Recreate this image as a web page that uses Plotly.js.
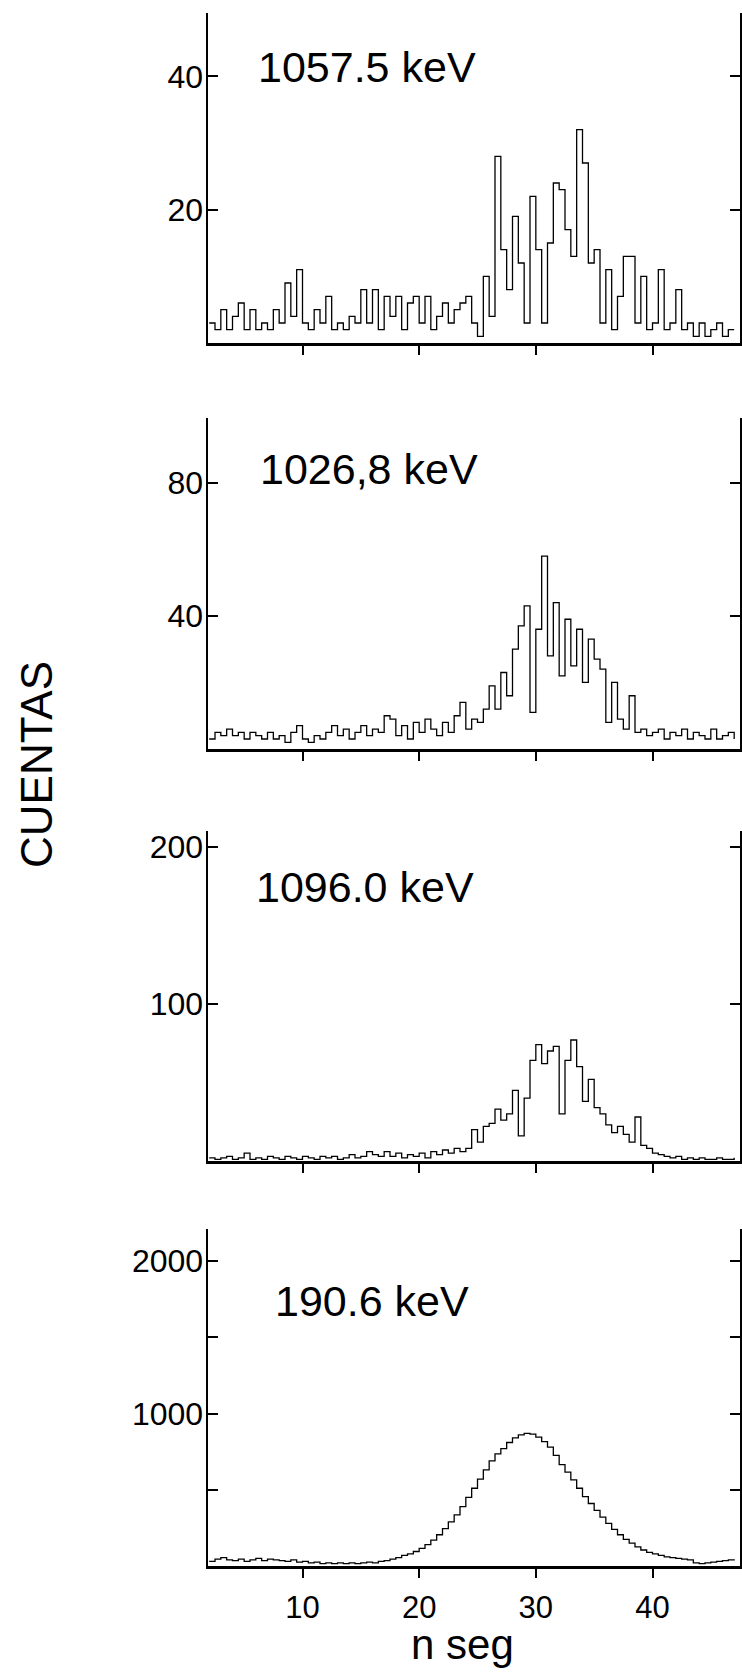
<!DOCTYPE html>
<html>
<head>
<meta charset="utf-8">
<script src="https://cdn.plot.ly/plotly-3.0.1.min.js"></script>
<style>html,body{margin:0;padding:0;background:#fff;}#chart{width:742px;height:1675px;}</style>
</head>
<body>
<div id="chart"></div>
<script>
// ---- data ----
const nseg = [
  2.0,2.5,3.0,3.5,4.0,4.5,5.0,5.5,6.0,6.5,
  7.0,7.5,8.0,8.5,9.0,9.5,10.0,10.5,11.0,11.5,
  12.0,12.5,13.0,13.5,14.0,14.5,15.0,15.5,16.0,16.5,
  17.0,17.5,18.0,18.5,19.0,19.5,20.0,20.5,21.0,21.5,
  22.0,22.5,23.0,23.5,24.0,24.5,25.0,25.5,26.0,26.5,
  27.0,27.5,28.0,28.5,29.0,29.5,30.0,30.5,31.0,31.5,
  32.0,32.5,33.0,33.5,34.0,34.5,35.0,35.5,36.0,36.5,
  37.0,37.5,38.0,38.5,39.0,39.5,40.0,40.5,41.0,41.5,
  42.0,42.5,43.0,43.5,44.0,44.5,45.0,45.5,46.0,46.5,
  47.0
];
const cuentas1057 = [
  3,2,5,2,4,6,2,5,2,3,
  2,5,3,9,4,11,3,2,5,3,
  7,2,3,2,4,3,8,3,8,2,
  7,4,7,2,6,7,3,7,2,4,
  6,3,5,6,7,3,1,10,4,28,
  14,8,19,12,3,22,14,3,15,24,
  23,17,13,32,27,12,14,3,11,2,
  7,13,13,3,10,2,3,11,2,3,
  8,2,3,1,3,1,2,3,1,2,
  2
];
const cuentas1026 = [
  3,5,4,6,4,5,3,5,4,3,
  5,3,4,2,5,7,3,2,4,3,
  5,7,4,6,3,5,7,4,6,5,
  10,9,4,7,3,8,5,9,6,4,
  8,5,10,14,6,9,8,12,19,12,
  23,16,30,37,43,11,36,58,28,44,
  22,39,25,36,20,33,27,24,8,20,
  9,6,16,5,6,4,5,6,3,5,
  4,6,3,5,4,3,6,3,4,5,
  3
];
const cuentas1096 = [
  2,1,2,3,1,2,5,1,2,1,
  3,2,1,3,2,1,3,2,1,3,
  2,3,1,2,4,2,3,6,4,3,
  6,3,5,2,4,3,5,2,6,4,
  7,5,8,6,8,20,12,22,24,33,
  26,30,45,16,40,64,74,62,70,73,
  30,64,77,60,38,52,34,30,23,18,
  22,17,12,28,10,8,5,4,3,2,
  3,1,2,1,2,1,1,2,1,1,
  2
];
const cuentas190 = [
  30,45,55,40,35,45,30,40,50,35,
  45,40,35,30,40,25,30,20,25,15,
  20,15,20,15,20,15,20,25,20,30,
  35,45,55,70,80,95,115,140,170,205,
  245,290,335,390,450,510,570,630,690,735,
  770,810,840,860,870,865,845,815,780,725,
  665,615,565,510,455,410,365,320,280,240,
  205,175,150,125,105,90,80,70,60,55,
  50,45,40,20,15,20,25,30,35,40,
  45
];
const panelLabels = ["1057.5 keV", "1026,8 keV", "1096.0 keV", "190.6 keV"];
const xTickVals = [10, 20, 30, 40];
const xTickText = ["10", "20", "30", "40"];
const yTickVals = [[20, 40], [40, 80], [100, 200], [500, 1000, 1500, 2000]];
const yTickText = [["20", "40"], ["40", "80"], ["100", "200"], ["", "1000", "", "2000"]];
const yMax = [49.5, 99.5, 210, 2210];
const xTitle = "n seg";
const yTitle = "CUENTAS";

// ---- layout geometry (pixels of the 742x1675 page) ----
const W = 742, H = 1675;
const FONT = "Liberation Sans, Arial, sans-serif";
const panelTop = [13, 418, 831, 1229];
const panelBot = [343, 749, 1161, 1566];
const labelPos = [[256, 67], [258, 469], [254, 887], [273, 1301]];
const xDom = [208 / W, 740 / W];

const series = [cuentas1057, cuentas1026, cuentas1096, cuentas190];
const traces = [];
const layout = {
  width: W, height: H,
  margin: {l: 0, r: 0, t: 0, b: 0},
  paper_bgcolor: "#ffffff", plot_bgcolor: "#ffffff",
  showlegend: false,
  font: {family: FONT, color: "#000", size: 31},
  annotations: []
};

for (let i = 0; i < 4; i++) {
  const s = i === 0 ? "" : String(i + 1);
  traces.push({
    x: nseg, y: series[i], type: "scatter", mode: "lines",
    line: {shape: "hv", color: "#000", width: 1.3},
    xaxis: "x" + s, yaxis: "y" + s, hoverinfo: "skip"
  });
  layout["xaxis" + s] = {
    domain: xDom, anchor: "y" + s, range: [1.9, 47.5],
    showline: true, linecolor: "#000", linewidth: 2.5,
    ticks: "outside", ticklen: 9, tickwidth: 2, tickcolor: "#000",
    tickvals: xTickVals, ticktext: xTickText, ticklabelstandoff: 3,
    showticklabels: i === 3, tickfont: {size: 31, family: FONT, color: "#000"},
    showgrid: false, zeroline: false, mirror: false, automargin: false,
    fixedrange: true
  };
  layout["yaxis" + s] = {
    domain: [1 - panelBot[i] / H, 1 - panelTop[i] / H], anchor: "x" + s,
    range: [0, yMax[i]],
    showline: true, linecolor: "#000", linewidth: 2.5, mirror: "ticks",
    ticks: "inside", ticklen: 10, tickwidth: 2, tickcolor: "#000",
    tickvals: yTickVals[i], ticktext: yTickText[i], ticklabelstandoff: -4,
    tickfont: {size: 32, family: FONT, color: "#000"},
    showgrid: false, zeroline: false, automargin: false, fixedrange: true
  };
  layout.annotations.push({
    text: panelLabels[i], xref: "paper", yref: "paper",
    x: labelPos[i][0] / W, y: 1 - labelPos[i][1] / H,
    xanchor: "left", yanchor: "middle", showarrow: false,
    font: {size: 43, family: FONT, color: "#000"}
  });
}
layout.annotations.push({
  text: xTitle, xref: "paper", yref: "paper",
  x: 462 / W, y: 1 - 1644 / H, xanchor: "center", yanchor: "middle",
  showarrow: false, font: {size: 42, family: FONT, color: "#000"}
});
layout.annotations.push({
  text: yTitle, xref: "paper", yref: "paper",
  x: 37 / W, y: 1 - 765 / H, xanchor: "center", yanchor: "middle",
  textangle: -90, showarrow: false, font: {size: 44, family: FONT, color: "#000"}
});

Plotly.newPlot("chart", traces, layout, {staticPlot: true, displayModeBar: false});
</script>
</body>
</html>
